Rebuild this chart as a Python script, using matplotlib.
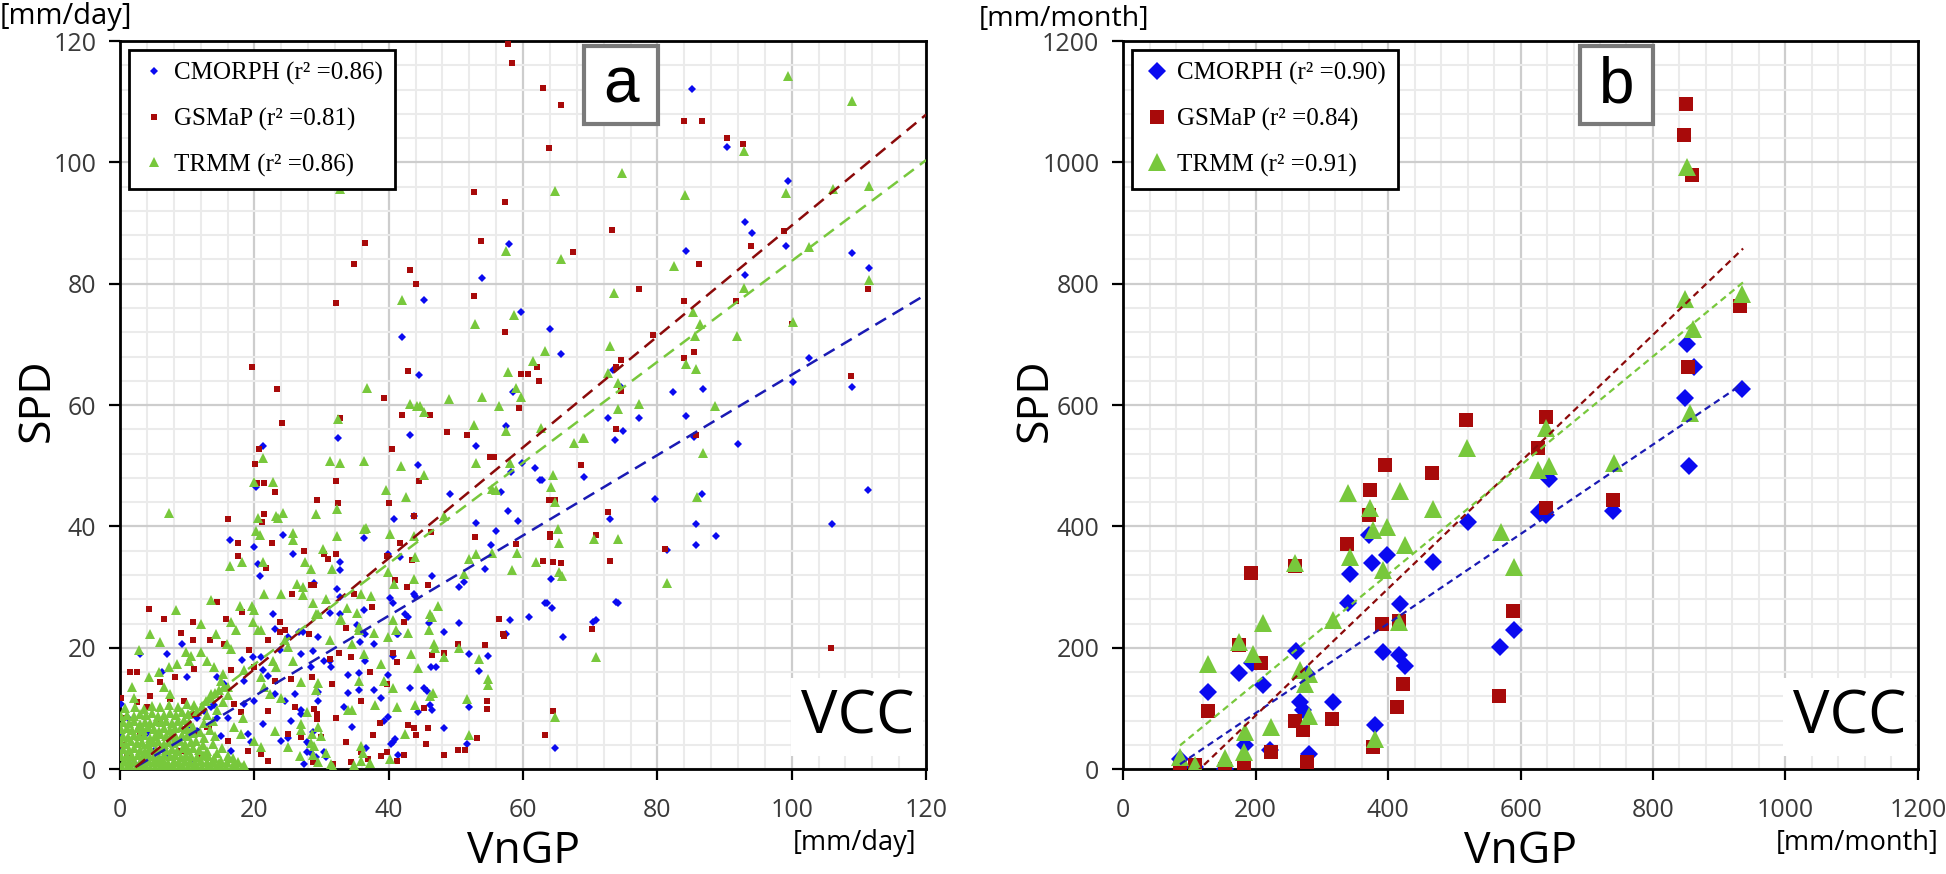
import matplotlib
matplotlib.use("Agg")
import matplotlib.pyplot as plt
from matplotlib.patches import Rectangle
from matplotlib.ticker import MultipleLocator
import numpy as np

plt.rcParams['font.family'] = ['Open Sans', 'DejaVu Sans']

# ---------------- panel a : daily values, (VnGP, SPD) in mm/day ----------------
cmorph_day = [
    # upper part
    (85.2, 112.1), (57.9, 86.5), (84.2, 85.4), (53.9, 80.9), (45.2, 77.4), (59.7, 75.3),
    (42.0, 71.3), (64.0, 72.5), (65.7, 68.5), (73.4, 65.8), (44.5, 65.0), (58.5, 62.1),
    (82.3, 62.2), (74.6, 63.0), (57.4, 56.6), (72.7, 57.8), (77.3, 57.8), (84.2, 58.2),
    (32.4, 54.6), (43.2, 55.0), (74.9, 55.7), (85.5, 54.7),
    (90.4, 102.6), (99.5, 97.0), (93.0, 90.2), (94.1, 88.3), (99.1, 86.2), (109.0, 85.0),
    (111.5, 82.6), (93.0, 81.4), (102.5, 67.8), (100.2, 63.8), (109.0, 63.0), (86.8, 62.6),
    (92.0, 53.6), (86.6, 45.3), (85.8, 40.4), (88.7, 38.5), (85.8, 36.9), (111.4, 46.0),
    (106.0, 40.4),
    (65.9, 21.8), (69.1, 48.2), (70.4, 24.2), (70.9, 24.5), (73.0, 41.3), (73.7, 54.2),
    (73.9, 27.5), (74.1, 27.4), (79.6, 44.5), (81.4, 36.1),
    # middle part
    (53.0, 53.2), (44.3, 50.1), (49.1, 45.3), (56.7, 45.7), (58.2, 48.9), (59.9, 50.5),
    (61.7, 49.6), (62.5, 47.7), (62.8, 47.7), (57.7, 42.6), (59.2, 40.9), (55.9, 39.3),
    (55.2, 36.9), (53.0, 40.5), (54.4, 33.0), (40.8, 41.3), (43.7, 41.7), (36.3, 38.1),
    (39.9, 35.5), (41.7, 35.0), (32.7, 34.1), (32.7, 32.9), (46.5, 31.8), (50.4, 30.0),
    (51.2, 30.8), (28.8, 30.6), (32.3, 29.7), (32.8, 28.4), (40.2, 28.2), (40.7, 27.3),
    (43.7, 28.9), (43.9, 28.5), (31.3, 25.7), (32.8, 25.6), (36.3, 26.2), (42.4, 25.5),
    (42.8, 25.1), (46.0, 24.1), (50.4, 24.1), (60.9, 25.0), (63.2, 27.4), (63.5, 27.4),
    (64.3, 26.5), (58.1, 24.5), (57.5, 22.3), (64.2, 31.4), (48.3, 22.6), (35.2, 23.8),
    (35.7, 21.0), (37.8, 20.6), (41.2, 22.2), (41.4, 22.2), (36.4, 22.3), (27.2, 22.6),
    (29.5, 21.8), (26.9, 19.0), (28.7, 19.5), (30.4, 17.8), (31.3, 17.9), (31.4, 16.9),
    (28.4, 16.9), (36.4, 17.8), (40.7, 18.6), (46.3, 16.9), (47.1, 16.9), (51.9, 19.0),
    (54.8, 18.6), (53.4, 16.2), (34.0, 15.5), (35.5, 15.9), (39.9, 15.5), (43.2, 13.4),
    (45.3, 13.4), (45.7, 12.9), (46.5, 9.8), (46.2, 10.6), (34.0, 12.6), (35.5, 13.0),
    (37.8, 13.0), (38.9, 11.8), (29.4, 11.3), (29.4, 12.7), (33.4, 10.2), (44.3, 9.4),
    (51.9, 10.2), (39.9, 8.6), (39.3, 7.9), (34.5, 6.9), (48.3, 6.7), (26.9, 9.7),
    (26.9, 9.1), (40.7, 4.5), (40.4, 4.2), (40.9, 4.9), (36.6, 3.4), (41.4, 2.3),
    (51.6, 4.2), (64.7, 3.4), (28.7, 6.1), (27.9, 4.5), (28.2, 4.1), (27.9, 2.8),
    (28.4, 2.6), (30.4, 2.8), (30.7, 2.0), (29.2, 2.0), (27.4, 0.9),
    (21.3, 53.3), (20.2, 46.5), (16.3, 37.8), (20.0, 36.6), (24.2, 38.6), (25.7, 35.4),
    (20.6, 33.8), (20.9, 31.9),
    # low values
    (9.25, 20.7), (7.0, 19.0), (3.0, 19.0), (18.1, 18.0), (19.75, 18.5), (21.0, 18.5),
    (22.75, 25.6), (23.0, 23.1), (23.75, 19.6), (25.0, 21.8), (26.6, 22.6), (6.25, 16.0),
    (10.0, 15.2), (14.5, 15.2), (15.5, 14.0), (18.5, 14.6), (21.25, 16.3), (22.0, 15.4),
    (18.5, 10.7), (20.0, 11.3), (23.0, 12.4), (24.5, 11.3), (26.0, 12.4), (25.5, 8.0),
    (21.25, 7.4), (19.0, 5.8), (19.5, 4.4), (24.0, 4.7), (25.0, 5.2), (0.1, 10.7),
    (13.5, 10.2), (14.5, 8.5), (11.5, 6.3), (16.0, 8.5),
    (0.1, 6.0), (0.3, 3.0), (2.0, 1.0), (5.0, 3.0), (8.0, 5.0), (10.0, 7.0), (11.5, 8.5),
    (4.0, 6.0), (7.0, 2.0), (1.2, 8.5), (12.5, 9.5), (14.0, 10.5), (10.5, 1.5), (16.5, 3.0),
    (15.0, 5.5),
]

gsmap_day = [
    (57.7, 119.6), (58.4, 116.4), (63.0, 112.3), (65.7, 109.5), (40.4, 105.1), (63.8, 102.3),
    (84.0, 106.8), (52.7, 95.1), (57.3, 93.5), (73.2, 88.8), (36.4, 86.7), (53.7, 87.1),
    (67.4, 85.2), (34.9, 83.2), (43.2, 82.3), (44.0, 80.0), (52.7, 78.0), (77.2, 79.2),
    (84.0, 77.2), (32.1, 76.8), (57.3, 72.0), (79.3, 71.6), (74.6, 67.5), (73.8, 66.3),
    (59.7, 65.1), (60.7, 65.1), (62.0, 66.3), (62.3, 64.0), (42.9, 65.6), (84.0, 67.8),
    (85.5, 68.8), (39.3, 61.2), (41.9, 58.3), (46.1, 58.3), (59.4, 59.5), (74.6, 62.3),
    (48.6, 55.5), (51.6, 55.1), (73.8, 56.0),
    (86.6, 106.8), (90.3, 104.0), (92.8, 103.1), (98.9, 88.7), (93.9, 86.3), (86.2, 83.2),
    (91.7, 77.2), (100.1, 73.3), (108.8, 64.8), (111.4, 79.2), (85.7, 55.0), (105.8, 20.0),
    (65.6, 33.9), (68.6, 50.2), (70.2, 23.1), (70.8, 38.6), (72.9, 34.3), (72.6, 42.4),
    (81.2, 36.2),
    (40.5, 52.7), (55.0, 51.5), (55.7, 51.5), (32.2, 47.5), (29.3, 44.3), (32.5, 43.9),
    (44.5, 47.5), (40.0, 43.9), (43.8, 41.8), (46.3, 39.1), (52.8, 38.3), (59.0, 37.1),
    (27.4, 36.0), (30.4, 35.5), (31.0, 34.7), (32.2, 35.5), (41.7, 37.2), (39.8, 35.2),
    (43.4, 34.4), (40.9, 31.1), (42.7, 30.0), (45.9, 30.3), (28.4, 30.3), (28.9, 30.3),
    (34.9, 28.8), (37.5, 26.7), (42.3, 24.3), (33.7, 23.2), (28.2, 22.3), (56.4, 24.7),
    (57.0, 22.3), (57.2, 21.9), (50.3, 20.7), (54.3, 20.4), (32.6, 19.1), (31.2, 18.2),
    (34.4, 18.4), (37.2, 16.0), (40.6, 19.2), (41.3, 17.7), (46.4, 18.8), (48.2, 19.2),
    (28.5, 15.2), (31.5, 14.0), (39.8, 14.0), (35.8, 11.3), (45.2, 10.1), (54.7, 11.2),
    (54.7, 9.9), (28.9, 9.9), (29.3, 9.1), (29.3, 8.3), (32.2, 8.5), (38.7, 7.6),
    (42.9, 7.2), (43.8, 6.8), (45.9, 6.8), (44.1, 5.6), (45.6, 4.1), (53.2, 5.2),
    (63.3, 5.6), (64.4, 9.6), (37.6, 5.6), (33.7, 4.5), (29.9, 5.3), (26.9, 5.3),
    (35.9, 2.8), (36.9, 1.7), (38.9, 2.1), (39.8, 2.8), (42.3, 2.4), (41.3, 1.3),
    (48.2, 2.4), (50.3, 3.2), (51.4, 3.2), (34.4, 1.2), (31.7, 0.9), (28.7, 1.2),
    (64.4, 34.1), (64.0, 38.8), (64.0, 38.3), (63.0, 34.3), (64.8, 44.3), (63.8, 44.3),
    (19.7, 66.3), (23.3, 62.6), (24.1, 57.1), (20.7, 52.7), (20.1, 50.3), (20.4, 47.1),
    (21.5, 47.1), (23.0, 45.6), (21.5, 42.0), (21.2, 40.7), (16.1, 41.2), (17.5, 37.3),
    (17.6, 35.2), (21.8, 33.2), (22.6, 37.3), (32.7, 57.9),
    (4.25, 26.4), (6.5, 24.8), (10.9, 24.3), (14.5, 27.5), (15.75, 24.8), (18.1, 25.9),
    (9.1, 22.4), (10.9, 21.2), (13.4, 21.2), (1.5, 16.0), (2.5, 16.0), (15.5, 20.7),
    (19.25, 19.7), (22.0, 21.2), (23.75, 24.2), (24.5, 22.9), (23.75, 22.6), (25.6, 28.8),
    (6.0, 14.3), (8.25, 15.2), (11.0, 16.5), (16.5, 16.3), (20.0, 16.8), (23.0, 14.6),
    (25.5, 14.9), (26.0, 10.2), (25.0, 5.8), (22.0, 9.6), (21.0, 2.5), (22.0, 1.4),
    (9.5, 11.3), (11.0, 9.1), (4.0, 10.2), (17.0, 10.7), (18.0, 9.4), (13.0, 6.9),
    (16.0, 4.7), (19.0, 3.0),
    (0.3, 4.0), (0.5, 8.5), (1.0, 2.0), (3.0, 6.0), (6.0, 8.0), (9.0, 3.0), (11.0, 6.0),
    (2.5, 11.0), (4.5, 12.0), (7.5, 11.5), (10.5, 9.0), (13.2, 7.0), (12.0, 2.0), (0.2, 11.8),
]

trmm_day = [
    (32.7, 95.6), (57.5, 85.4), (65.7, 84.1), (74.8, 98.2), (64.7, 95.3), (84.1, 94.6),
    (82.4, 82.9), (73.6, 78.4), (42.0, 77.3), (58.6, 74.9), (52.8, 73.3), (63.3, 68.9),
    (73.0, 69.8), (84.2, 66.8), (61.5, 67.3), (57.8, 65.4), (58.9, 62.9), (59.7, 61.3),
    (74.1, 63.7), (72.7, 65.3), (74.2, 59.3), (77.3, 60.2), (56.4, 59.9), (53.9, 61.3),
    (49.0, 61.0), (36.7, 62.9), (43.1, 60.1), (44.2, 59.8), (44.7, 59.8), (45.3, 58.9),
    (52.7, 56.8), (57.5, 55.7), (62.6, 56.2), (68.9, 54.5), (85.7, 65.9),
    (99.5, 114.2), (109.0, 110.1), (92.9, 101.8), (111.5, 96.1), (106.1, 95.6), (99.1, 94.9),
    (102.6, 86.0), (92.9, 79.3), (111.5, 80.6), (85.3, 75.3), (86.4, 73.4), (85.6, 71.4),
    (91.9, 71.4), (100.2, 73.7), (88.5, 59.8), (86.8, 52.1), (85.9, 44.8),
    (65.8, 31.8), (67.6, 53.7), (69.1, 54.5), (70.5, 38.0), (70.9, 18.5), (74.1, 38.0),
    (81.4, 30.6),
    (31.3, 50.8), (32.8, 50.5), (36.3, 50.8), (41.8, 50.0), (45.3, 48.4), (39.6, 46.0),
    (42.5, 44.9), (32.3, 42.8), (29.2, 42.1), (36.3, 39.6), (36.6, 39.8), (40.2, 38.8),
    (43.7, 38.5), (32.3, 38.5), (30.2, 36.2), (27.5, 34.1), (28.4, 33.0), (31.6, 33.0),
    (43.9, 35.0), (39.9, 32.5), (40.8, 30.5), (43.7, 31.4), (48.2, 41.8), (53.0, 50.5),
    (58.1, 50.5), (55.3, 46.2), (55.9, 46.0), (64.5, 48.4), (64.2, 46.5), (64.7, 44.0),
    (65.2, 39.6), (65.3, 37.3), (65.3, 32.5), (61.9, 34.1), (58.3, 32.9), (59.1, 35.6),
    (55.4, 35.6), (53.0, 35.5), (51.9, 34.6), (51.2, 32.1), (35.9, 28.8), (37.4, 28.5),
    (30.7, 28.1), (27.3, 30.0), (27.3, 28.7), (33.8, 26.5), (32.9, 24.8), (32.7, 24.5),
    (29.2, 25.6), (29.5, 25.6), (28.7, 27.3), (35.3, 25.8), (40.7, 24.5), (47.3, 26.9),
    (46.2, 25.6), (46.4, 25.1), (46.0, 22.9), (41.1, 22.9), (42.8, 22.5), (39.9, 21.8),
    (37.8, 22.5), (35.6, 23.4), (35.6, 22.9), (34.5, 20.7), (31.3, 21.2), (36.3, 19.0),
    (38.9, 17.4), (43.3, 19.0), (46.7, 20.7), (46.9, 19.9), (48.3, 18.5), (50.4, 19.9),
    (53.4, 18.1), (54.8, 14.9), (54.8, 13.8), (44.3, 16.6), (40.7, 13.4), (39.3, 14.5),
    (35.5, 14.6), (29.4, 14.2), (26.9, 14.4), (29.1, 13.1), (37.9, 10.5), (33.9, 9.8),
    (34.5, 9.8), (41.3, 10.2), (43.9, 10.6), (46.2, 12.0), (46.6, 12.6), (51.6, 11.5),
    (64.7, 8.6), (51.9, 5.6), (27.9, 9.4), (26.9, 7.5), (26.9, 6.4), (29.4, 6.9),
    (28.5, 5.8), (29.9, 5.4), (42.4, 5.8), (35.9, 3.8), (36.1, 2.7), (28.4, 4.3),
    (28.9, 3.8), (30.7, 2.6), (28.7, 2.3), (29.5, 1.2), (31.4, 0.9), (31.7, 0.4),
    (34.9, 0.6), (35.9, 1.3), (37.2, 1.0), (40.2, 1.7),
    (7.3, 42.2), (32.5, 57.7), (20.0, 47.3), (21.3, 51.3), (22.7, 47.3), (20.6, 41.4),
    (23.2, 41.8), (23.5, 41.4), (24.2, 42.2), (20.2, 39.3), (20.9, 38.6), (25.7, 39.0),
    (25.7, 37.8), (16.3, 33.4), (18.1, 34.2), (21.3, 34.2), (26.4, 30.5),
    (13.6, 27.8), (8.4, 26.2), (4.5, 22.2), (5.9, 20.9), (2.75, 19.7), (14.3, 22.2),
    (16.5, 24.2), (17.8, 26.9), (19.7, 26.9), (20.0, 26.2), (19.8, 24.2), (20.5, 22.9),
    (21.0, 22.9), (21.5, 28.9), (23.9, 28.9), (12.0, 23.9), (17.3, 22.9), (15.9, 20.7),
    (16.5, 19.8), (9.75, 19.3), (10.5, 18.7), (12.0, 19.3), (8.5, 17.4), (10.3, 17.9),
    (5.75, 16.0), (4.25, 15.2), (7.25, 16.8), (1.75, 13.5), (2.0, 11.8), (6.5, 13.5),
    (7.5, 12.4), (13.0, 17.9), (14.0, 16.8), (15.3, 15.7), (18.5, 16.3), (15.0, 14.6),
    (16.0, 13.5), (13.5, 12.4), (21.0, 15.2), (22.75, 17.9), (23.25, 16.8), (25.75, 17.9),
    (24.5, 21.2), (25.0, 20.1), (21.5, 13.5), (22.25, 12.4), (24.0, 11.8), (18.25, 8.5),
    (17.0, 6.9), (18.0, 5.8), (20.0, 4.7), (21.0, 3.6), (23.0, 6.3), (25.0, 3.6),
    (26.75, 2.2), (13.0, 2.5), (14.0, 1.9), (15.0, 1.4), (17.0, 0.8), (18.5, 0.6),
    # dense cluster near the origin
    (0.3, 0.3), (1.0, 0.2), (1.7, 0.4), (2.4, 0.2), (3.1, 0.5), (3.8, 0.3), (4.5, 0.2),
    (5.2, 0.4), (5.9, 0.3), (6.6, 0.2), (7.3, 0.5), (8.0, 0.3), (8.7, 0.2), (9.4, 0.4),
    (10.1, 0.3), (10.8, 0.2), (11.5, 0.5), (12.2, 0.3), (12.9, 0.2), (13.6, 0.4),
    (14.3, 0.3), (15.0, 0.2), (15.8, 0.4), (16.6, 0.3), (17.4, 0.2), (18.2, 0.3),
    (0.6, 1.3), (1.4, 1.1), (2.1, 1.4), (2.9, 1.2), (3.6, 1.0), (4.3, 1.3), (5.0, 1.1),
    (5.8, 1.4), (6.5, 1.2), (7.2, 1.0), (8.0, 1.3), (8.8, 1.1), (9.6, 1.4), (10.4, 1.2),
    (11.2, 1.0), (12.0, 1.3), (12.9, 1.1), (13.8, 1.2), (14.8, 1.0), (15.9, 1.1),
    (0.2, 2.2), (1.0, 2.4), (1.8, 2.1), (2.6, 2.3), (3.4, 2.0), (4.2, 2.5), (5.0, 2.2),
    (5.8, 2.0), (6.6, 2.4), (7.4, 2.1), (8.2, 2.3), (9.0, 2.0), (9.8, 2.4), (10.6, 2.2),
    (11.4, 2.0), (12.3, 2.4), (13.1, 2.1),
    (0.5, 3.3), (1.3, 3.1), (2.1, 3.5), (2.9, 3.2), (3.7, 3.0), (4.5, 3.4), (5.3, 3.2),
    (6.1, 3.5), (6.9, 3.1), (7.7, 3.3), (8.5, 3.0), (9.3, 3.4), (10.1, 3.2), (10.9, 3.5),
    (11.8, 3.1),
    (0.1, 4.4), (0.9, 4.2), (1.7, 4.6), (2.5, 4.3), (3.3, 4.5), (4.1, 4.1), (4.9, 4.4),
    (5.7, 4.6), (6.5, 4.2), (7.3, 4.5), (8.1, 4.3), (8.9, 4.6), (9.7, 4.2), (10.5, 4.4),
    (11.3, 4.7),
    (0.4, 5.5), (1.2, 5.3), (2.0, 5.7), (2.8, 5.4), (3.6, 5.6), (4.4, 5.2), (5.2, 5.5),
    (6.0, 5.8), (6.8, 5.4), (7.6, 5.6), (8.4, 5.3), (9.2, 5.7), (10.0, 5.5), (10.9, 5.9),
    (0.2, 6.6), (1.0, 6.8), (1.8, 6.4), (2.6, 6.7), (3.4, 6.5), (4.2, 6.9), (5.0, 6.6),
    (5.8, 6.3), (6.6, 6.8), (7.4, 6.5), (8.2, 6.7), (9.0, 6.9), (9.9, 6.6), (10.8, 7.0),
    (0.5, 7.8), (1.3, 7.6), (2.1, 7.9), (2.9, 7.5), (3.7, 7.8), (4.5, 7.6), (5.3, 8.0),
    (6.1, 7.7), (6.9, 7.9), (7.7, 7.6), (8.6, 7.9), (9.5, 8.1), (10.3, 7.8),
    (0.2, 8.8), (1.1, 9.0), (2.0, 8.7), (2.9, 9.1), (3.8, 8.9), (4.7, 9.2), (5.6, 8.8),
    (6.5, 9.0), (7.4, 9.3), (8.3, 8.9), (9.2, 9.4), (10.1, 9.1),
    (0.8, 10.1), (2.2, 10.3), (3.5, 9.9), (4.8, 10.4), (6.0, 10.2), (7.3, 10.6), (8.6, 10.3),
    (9.9, 10.8), (11.0, 10.5),
    (11.5, 9.5), (12.2, 10.4), (12.8, 11.2), (13.5, 11.8), (14.2, 12.5), (14.8, 13.0),
    (15.5, 13.6), (13.0, 9.0), (12.5, 7.6), (13.8, 8.0), (14.5, 9.8), (15.3, 11.0),
    (16.0, 12.2), (13.0, 3.0), (13.8, 4.2), (14.5, 2.6), (15.2, 3.5), (16.0, 2.2),
    (16.8, 1.8), (17.5, 1.2), (14.2, 5.5), (12.5, 5.2), (13.4, 6.5), (11.9, 6.2), (12.3, 4.0),
]

# regression lines: slope, intercept
fit_day_slope = [0.662, 0.914, 0.831]
fit_day_icpt = [-1.2, -1.8, 0.66]
r2_day = ['0.86', '0.81', '0.86']

# ---------------- panel b : monthly values, (VnGP, SPD) in mm/month ----------------
cmorph_month = [
    (86, 17), (108, 3), (129, 127), (154, 0), (175, 158), (184, 39), (194, 175), (211, 139),
    (222, 31), (261, 194), (267, 111), (271, 97), (278, 157), (281, 25), (317, 111),
    (339, 273), (343, 321), (371, 386), (376, 340), (381, 73), (393, 193), (399, 353),
    (416, 188), (418, 272), (426, 170), (468, 342), (520, 407), (569, 201), (590, 229),
    (628, 424), (638, 419), (643, 479), (739, 426), (849, 612), (851, 700), (854, 500),
    (862, 662), (934, 627),
]
gsmap_month = [
    (86, 2), (109, 7), (128, 95), (154, 0), (175, 204), (182, 8), (193, 323), (209, 175),
    (223, 28), (259, 334), (260, 80), (271, 64), (278, 11), (315, 83), (338, 371),
    (372, 419), (373, 460), (377, 36), (391, 240), (396, 501), (414, 102), (416, 244),
    (422, 140), (466, 488), (518, 575), (568, 121), (588, 261), (627, 529), (639, 430),
    (639, 580), (739, 444), (847, 1045), (850, 1097), (853, 663), (859, 979), (932, 764),
]
trmm_month = [
    (86, 20), (108, 6), (129, 174), (154, 18), (175, 209), (182, 28), (184, 61), (196, 190),
    (211, 241), (224, 70), (260, 339), (267, 163), (275, 140), (281, 157), (281, 88),
    (317, 245), (339, 455), (343, 350), (373, 431), (377, 394), (381, 50), (393, 328),
    (399, 399), (416, 242), (418, 459), (425, 369), (468, 428), (519, 529), (570, 391),
    (590, 333), (627, 493), (639, 562), (643, 499), (741, 504), (849, 775), (851, 993),
    (856, 587), (861, 725), (934, 783),
]

fit_month_slope = [0.738, 1.046, 0.898]
fit_month_icpt = [-55.4, -121.0, -38.2]
fit_month_range = [86, 936]
r2_month = ['0.90', '0.84', '0.91']

names = ['CMORPH', 'GSMaP', 'TRMM']
colors = ['#0a0af0', '#a80a0a', '#78c83c']
line_colors = ['#1a1ab4', '#8b0a0a', '#78c83c']
markers = ['D', 's', '^']


def style_axes(ax, top, major, minor):
    ax.set_xlim(0, top)
    ax.set_ylim(0, top)
    ax.xaxis.set_major_locator(MultipleLocator(major))
    ax.yaxis.set_major_locator(MultipleLocator(major))
    ax.xaxis.set_minor_locator(MultipleLocator(minor))
    ax.yaxis.set_minor_locator(MultipleLocator(minor))
    ax.grid(which='minor', color='#ebebeb', lw=1.5, zorder=0)
    ax.grid(which='major', color='#cdcdcd', lw=1.6, zorder=0)
    ax.set_axisbelow(True)
    ax.tick_params(which='major', direction='out', length=8, width=1.6, color='black',
                   labelsize=18, labelcolor='#3a3a3a', pad=9)
    ax.tick_params(axis='x', which='major', pad=13)
    ax.tick_params(which='minor', length=0)
    for s in ax.spines.values():
        s.set_linewidth(2.0)
        s.set_color('black')


fig = plt.figure(figsize=(19.46, 8.74), dpi=100)
ax1 = fig.add_axes([0.0617, 0.120, 0.4142, 0.833])
ax2 = fig.add_axes([0.5771, 0.120, 0.4085, 0.833])

# panel a
style_axes(ax1, 120, 20, 4)
day_sets = [cmorph_day, gsmap_day, trmm_day]
day_ms = [4.3, 3.8, 6.5]
for i, pts in enumerate(day_sets):
    xy = np.array(pts)
    ax1.plot(xy[:, 0], xy[:, 1], ls='none', marker=markers[i], ms=day_ms[i],
             color=colors[i], mew=0, zorder=3 + i,
             label=f'{names[i]} (r\u00b2 =' + r2_day[i] + ')')
xs = np.array([0, 120])
for i in range(3):
    ax1.plot(xs, fit_day_slope[i] * xs + fit_day_icpt[i], ls=(0, (5, 3)), lw=1.8,
             color=line_colors[i], zorder=7)

# panel b
style_axes(ax2, 1200, 200, 40)
month_sets = [cmorph_month, gsmap_month, trmm_month]
month_ms = [9.5, 10, 13]
for i, pts in enumerate(month_sets):
    xy = np.array(pts)
    ax2.plot(xy[:, 0], xy[:, 1], ls='none', marker=markers[i], ms=month_ms[i],
             color=colors[i], mew=0, zorder=3 + i,
             label=f'{names[i]} (r\u00b2 =' + r2_month[i] + ')')
xr = np.array(fit_month_range)
for i in range(3):
    ax2.plot(xr, fit_month_slope[i] * xr + fit_month_icpt[i], ls=(0, (3, 2)), lw=1.6,
             color=line_colors[i], zorder=7)

for ax, letter, ulab, ux in [(ax1, 'a', '[mm/day]', 0.988), (ax2, 'b', '[mm/month]', 1.026)]:
    leg = ax.legend(loc='upper left', frameon=True, fancybox=False, framealpha=1,
                    edgecolor='black', borderaxespad=0.35, labelspacing=0.9,
                    handletextpad=0.3, handlelength=1.0, borderpad=0.5,
                    prop={'family': 'Liberation Serif', 'size': 18})
    leg.get_frame().set_linewidth(2.0)
    leg.set_zorder(10)
    ax.add_patch(Rectangle((0.575, 0.886), 0.092, 0.107, transform=ax.transAxes,
                           fc='white', ec='#7a7a7a', lw=3, zorder=11))
    ax.text(0.621, 0.939, letter, transform=ax.transAxes, ha='center', va='center',
            fontsize=46, family='Liberation Sans', zorder=12)
    ax.text(0.985, 0.03, 'VCC', transform=ax.transAxes, ha='right', va='bottom',
            fontsize=44, zorder=12,
            bbox=dict(boxstyle='square,pad=0.15', fc='white', ec='none'))
    ax.text(0.5, -0.113, 'VnGP', transform=ax.transAxes, ha='center', va='center',
            fontsize=32)
    ax.text(ux, -0.102, ulab, transform=ax.transAxes, ha='right', va='center',
            fontsize=19.5, clip_on=False)

ax1.text(-0.103, 0.507, 'SPD', transform=ax1.transAxes, rotation=90,
         ha='center', va='center', fontsize=32)
ax2.text(-0.11, 0.507, 'SPD', transform=ax2.transAxes, rotation=90,
         ha='center', va='center', fontsize=32)
fig.text(0.0, 0.981, '[mm/day]', ha='left', va='center', fontsize=21)
fig.text(0.503, 0.978, '[mm/month]', ha='left', va='center', fontsize=20.5)

fig.savefig('out.png', dpi=100)
